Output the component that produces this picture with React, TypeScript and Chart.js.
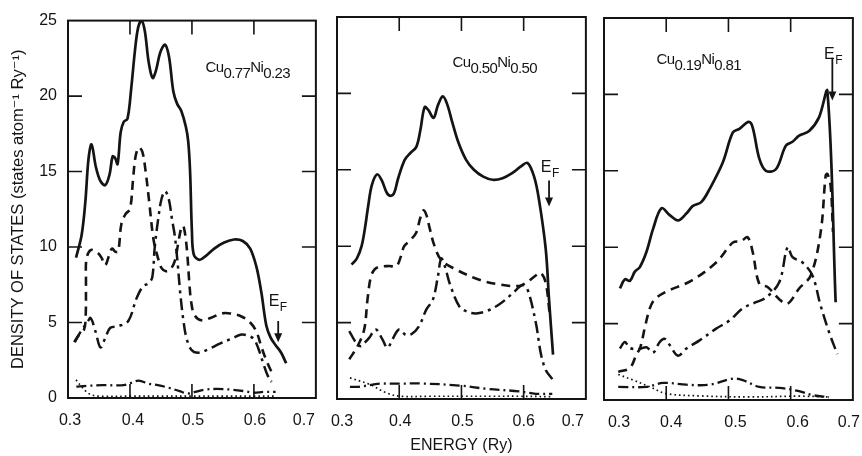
import React, { useEffect, useRef } from "react";
import { Chart, registerables } from "chart.js";

Chart.register(...registerables);

type Pt = [number, number];

// ---------- axis ticks ----------
const energyTicks = [0.3, 0.4, 0.5, 0.6, 0.7];
const dosTicks = [0, 5, 10, 15, 20, 25];

// ---------- panel 1 : Cu0.77Ni0.23 ----------
const cu77Total: Pt[] = [
  [0.313, 9.3], [0.322, 10.8], [0.328, 13.0], [0.333, 15.8], [0.338, 16.8], [0.345, 15.3],
  [0.352, 14.4], [0.36, 14.1], [0.367, 14.8], [0.372, 16.0], [0.376, 15.9], [0.38, 15.5],
  [0.385, 17.6], [0.39, 18.3], [0.396, 18.5], [0.402, 20.5], [0.408, 23.0], [0.413, 24.5],
  [0.4185, 25.0], [0.424, 24.3], [0.43, 22.3], [0.4365, 21.2], [0.442, 21.7], [0.449, 22.9],
  [0.4566, 23.4], [0.463, 22.6], [0.47, 20.3], [0.476, 19.5], [0.483, 19.0], [0.49, 18.0],
  [0.494, 17.0], [0.497, 15.0], [0.5, 11.0], [0.503, 9.5], [0.512, 9.15], [0.522, 9.4],
  [0.536, 9.9], [0.552, 10.3], [0.568, 10.5], [0.582, 10.4], [0.594, 9.9], [0.604, 8.7],
  [0.612, 7.0], [0.62, 4.8], [0.627, 4.0], [0.635, 3.5], [0.644, 3.0], [0.652, 2.3],
];
const cu77Dashed: Pt[] = [
  [0.31, 3.7], [0.318, 4.2], [0.326, 4.55], [0.3286, 5.5], [0.329, 7.7], [0.3297, 9.2],
  [0.3365, 9.8], [0.347, 9.65], [0.354, 9.3], [0.36, 8.8], [0.366, 9.4], [0.371, 9.9],
  [0.376, 9.7], [0.381, 9.7], [0.386, 11.5], [0.393, 12.2], [0.4, 12.5], [0.405, 14.5],
  [0.409, 16.0], [0.4143, 16.6], [0.42, 16.3], [0.425, 15.1], [0.431, 13.0], [0.438, 10.5],
  [0.445, 9.3], [0.451, 8.6], [0.458, 8.4], [0.465, 8.5], [0.4725, 9.1], [0.478, 10.3],
  [0.483, 11.3], [0.486, 11.4], [0.4895, 10.7], [0.4926, 9.5], [0.496, 7.5], [0.499, 6.3],
  [0.504, 5.5], [0.515, 5.15], [0.53, 5.3], [0.548, 5.6], [0.562, 5.6], [0.58, 5.4],
  [0.594, 5.0], [0.604, 4.4], [0.612, 3.4], [0.62, 2.5], [0.631, 1.5],
];
const cu77DashDot: Pt[] = [
  [0.311, 3.7], [0.3206, 4.4], [0.331, 5.0], [0.3365, 5.3], [0.3444, 4.4], [0.3524, 3.35],
  [0.3603, 4.0], [0.3683, 4.65], [0.3814, 4.76], [0.3973, 5.1], [0.4106, 6.6], [0.4211, 7.4],
  [0.43, 7.6], [0.436, 8.0], [0.44, 10.0], [0.446, 12.0], [0.451, 13.2], [0.4566, 13.7],
  [0.4625, 13.2], [0.468, 11.8], [0.4725, 10.7], [0.477, 8.9], [0.481, 7.0], [0.486, 5.2],
  [0.491, 4.0], [0.499, 3.2], [0.51, 3.0], [0.525, 3.2], [0.545, 3.6], [0.565, 3.95],
  [0.58, 4.2], [0.592, 4.1], [0.6, 3.9], [0.607, 3.3], [0.615, 2.3], [0.622, 1.5], [0.628, 1.1],
];
const cu77Low: Pt[] = [
  [0.3135, 0.75], [0.33, 0.8], [0.355, 0.85], [0.39, 0.85], [0.402, 1.0], [0.414, 1.15],
  [0.43, 0.95], [0.445, 0.85], [0.465, 0.65], [0.48, 0.45], [0.494, 0.3], [0.505, 0.4],
  [0.52, 0.55], [0.54, 0.6], [0.565, 0.55], [0.585, 0.45], [0.6, 0.35], [0.615, 0.4], [0.635, 0.4],
];
const cu77Dotted: Pt[] = [
  [0.313, 1.2], [0.321, 0.8], [0.33, 0.4], [0.34, 0.18], [0.352, 0.12], [0.4, 0.12],
  [0.45, 0.12], [0.5, 0.12], [0.55, 0.12], [0.6, 0.12], [0.635, 0.12],
];

// ---------- panel 2 : Cu0.50Ni0.50 ----------
const cu50Total: Pt[] = [
  [0.3235, 8.8], [0.332, 9.2], [0.3395, 10.0], [0.345, 11.2], [0.35, 12.6], [0.356, 14.0],
  [0.3645, 14.7], [0.372, 14.3], [0.38, 13.5], [0.386, 13.3], [0.392, 13.5], [0.398, 14.4],
  [0.4088, 15.65], [0.418, 16.1], [0.4275, 16.5], [0.434, 17.6], [0.4408, 19.1], [0.447, 18.9],
  [0.4552, 18.4], [0.462, 19.2], [0.47, 19.8], [0.477, 19.3], [0.486, 18.0], [0.495, 16.8],
  [0.5075, 15.65], [0.52, 15.0], [0.535, 14.55], [0.55, 14.35], [0.566, 14.45], [0.582, 14.8],
  [0.595, 15.2], [0.606, 15.45], [0.6168, 14.55], [0.6248, 13.0], [0.6355, 9.8], [0.6408, 6.5],
  [0.6472, 2.9],
];
const cu50Dashed: Pt[] = [
  [0.3197, 2.6], [0.333, 3.45], [0.3437, 4.55], [0.349, 6.5], [0.3544, 8.0], [0.3608, 8.5],
  [0.3677, 8.65], [0.3837, 8.7], [0.3955, 8.7], [0.4024, 9.3], [0.408, 10.0], [0.418, 10.4],
  [0.4275, 10.9], [0.4335, 11.8], [0.4392, 12.35], [0.444, 12.0], [0.4488, 11.2], [0.456, 10.1],
  [0.4675, 9.1], [0.49, 8.5], [0.5288, 7.8], [0.56, 7.5], [0.5928, 7.4], [0.607, 7.7],
  [0.62, 8.1], [0.6275, 8.25], [0.6355, 7.6], [0.642, 5.5],
];
const cu50DashDot: Pt[] = [
  [0.3197, 4.45], [0.3304, 3.7], [0.3384, 3.45], [0.345, 3.7], [0.3517, 4.0], [0.3624, 4.55],
  [0.373, 3.9], [0.3811, 3.35], [0.3891, 3.9], [0.3997, 4.55], [0.4104, 4.2], [0.42, 4.25],
  [0.4317, 4.75], [0.4435, 5.85], [0.4541, 6.5], [0.4621, 8.0], [0.4675, 9.2], [0.474, 8.6],
  [0.4808, 7.6], [0.4968, 6.05], [0.51, 5.7], [0.5235, 5.6], [0.54, 5.75], [0.561, 6.2],
  [0.582, 6.9], [0.598, 7.45], [0.606, 7.2], [0.6195, 5.0], [0.6275, 3.0], [0.6355, 1.9],
  [0.646, 1.3],
];
const cu50Low: Pt[] = [
  [0.3208, 0.8], [0.335, 0.8], [0.3688, 1.0], [0.4, 1.0], [0.4328, 1.02], [0.4968, 0.88],
  [0.5395, 0.67], [0.5928, 0.5], [0.6195, 0.34], [0.646, 0.34],
];
const cu50Dotted: Pt[] = [
  [0.3208, 1.38], [0.3528, 0.95], [0.3795, 0.4], [0.4008, 0.18], [0.45, 0.18], [0.5, 0.18],
  [0.55, 0.18], [0.5928, 0.18], [0.646, 0.15],
];

// ---------- panel 3 : Cu0.19Ni0.81 ----------
const cu19Total: Pt[] = [
  [0.3256, 7.3], [0.3336, 7.9], [0.3416, 7.8], [0.3496, 8.4], [0.3576, 8.7], [0.3683, 9.7],
  [0.3789, 11.2], [0.3923, 12.55], [0.4056, 12.1], [0.4189, 11.75], [0.4323, 12.2], [0.4429, 12.7],
  [0.4563, 12.95], [0.4696, 13.8], [0.4909, 15.55], [0.5069, 17.5], [0.5176, 17.75], [0.5325, 18.2],
  [0.5389, 17.85], [0.5496, 15.8], [0.5603, 15.0], [0.5763, 15.1], [0.5923, 16.65], [0.603, 16.9],
  [0.6136, 17.3], [0.6296, 17.6], [0.6456, 18.5], [0.659, 20.2], [0.6723, 6.4],
];
const cu19Dashed: Pt[] = [
  [0.3229, 1.84], [0.3416, 2.1], [0.3523, 3.0], [0.358, 3.4], [0.366, 4.8], [0.3736, 6.0],
  [0.3816, 6.6], [0.4003, 7.1], [0.44, 7.8], [0.4803, 9.0], [0.5069, 10.3], [0.5203, 10.4],
  [0.5309, 10.65], [0.5389, 9.7], [0.5496, 7.6], [0.5629, 7.4], [0.5816, 6.6], [0.595, 6.3],
  [0.6136, 7.3], [0.6323, 8.15], [0.6483, 11.0], [0.6563, 14.7], [0.659, 14.8], [0.6643, 14.0],
  [0.668, 11.0],
];
const cu19DashDot: Pt[] = [
  [0.3256, 3.37], [0.3336, 3.8], [0.3416, 3.4], [0.3576, 3.35], [0.3683, 3.45], [0.3789, 3.1],
  [0.3896, 3.8], [0.3976, 4.0], [0.4056, 3.6], [0.4189, 2.9], [0.4323, 3.37], [0.4536, 3.9],
  [0.4803, 4.67], [0.5016, 5.2], [0.5229, 6.0], [0.5443, 6.4], [0.5603, 6.7], [0.5816, 7.7],
  [0.595, 10.0], [0.603, 9.35], [0.619, 9.0], [0.635, 8.15], [0.648, 6.2], [0.6616, 4.45],
  [0.675, 3.0],
];
const cu19Low: Pt[] = [
  [0.3229, 0.86], [0.3683, 0.86], [0.395, 1.12], [0.4323, 1.0], [0.4696, 1.0], [0.5069, 1.4],
  [0.5229, 1.3], [0.5496, 0.86], [0.5816, 0.8], [0.6136, 0.58], [0.635, 0.32], [0.6616, 0.18],
];
const cu19Dotted: Pt[] = [
  [0.3229, 1.67], [0.347, 1.3], [0.3736, 0.86], [0.4, 0.42], [0.4536, 0.27], [0.5336, 0.2],
  [0.6136, 0.25], [0.6616, 0.2],
];

// ---------- labels ----------
const cu77Formula = ["Cu", "0.77", "Ni", "0.23"];
const cu50Formula = ["Cu", "0.50", "Ni", "0.50"];
const cu19Formula = ["Cu", "0.19", "Ni", "0.81"];
const yTitle = "DENSITY OF STATES (states atom\u207B\u00B9 Ry\u207B\u00B9)";
const xTitle = "ENERGY (Ry)";

const FONT = '"Liberation Sans", "DejaVu Sans", Arial, sans-serif';
const INK = "#141414";

const lineStyles = {
  total: { dash: [] as number[], width: 2.7 },
  dashed: { dash: [9, 6], width: 2.6 },
  dashDot: { dash: [12, 5, 3, 5], width: 2.5 },
  low: { dash: [10, 4, 2, 4], width: 2.3 },
  dotted: { dash: [1.6, 3], width: 1.7 },
};

type PanelCfg = {
  left: number; width: number; padL: number; padR: number; top: number; bottom: number;
  showY: boolean; showXTitle: boolean; xLabelShift: number[];
  series: { pts: Pt[]; style: keyof typeof lineStyles }[];
  formula: string[]; formulaAt: Pt;
  efText: Pt; efArrowX: number; efFrom: number; efTo: number;
};

const panels: PanelCfg[] = [
  {
    left: 0, width: 340, padL: 0, padR: 20, top: 15, bottom: 398, showY: true, showXTitle: false,
    xLabelShift: [2, 3, 1, 1, -12],
    series: [
      { pts: cu77Total, style: "total" }, { pts: cu77Dashed, style: "dashed" },
      { pts: cu77DashDot, style: "dashDot" }, { pts: cu77Low, style: "low" },
      { pts: cu77Dotted, style: "dotted" },
    ],
    formula: cu77Formula, formulaAt: [0.522, 21.6],
    efText: [0.6238, 6.07], efArrowX: 0.6392, efFrom: 5.1, efTo: 3.7,
  },
  {
    left: 310, width: 300, padL: 27, padR: 23, top: 17, bottom: 399, showY: false, showXTitle: true,
    xLabelShift: [5, 1, 1, 0, -13],
    series: [
      { pts: cu50Total, style: "total" }, { pts: cu50Dashed, style: "dashed" },
      { pts: cu50DashDot, style: "dashDot" }, { pts: cu50Low, style: "low" },
      { pts: cu50Dotted, style: "dotted" },
    ],
    formula: cu50Formula, formulaAt: [0.4856, 21.7],
    efText: [0.6275, 14.87], efArrowX: 0.6408, efFrom: 14.3, efTo: 12.6,
  },
  {
    left: 577, width: 300, padL: 27, padR: 23, top: 18, bottom: 400, showY: false, showXTitle: false,
    xLabelShift: [15, 5, 7, 7, -4],
    series: [
      { pts: cu19Total, style: "total" }, { pts: cu19Dashed, style: "dashed" },
      { pts: cu19DashDot, style: "dashDot" }, { pts: cu19Low, style: "low" },
      { pts: cu19Dotted, style: "dotted" },
    ],
    formula: cu19Formula, formulaAt: [0.3843, 22.0],
    efText: [0.6536, 22.3], efArrowX: 0.667, efFrom: 22.4, efTo: 19.6,
  },
];

const decorPlugin = {
  id: "decor",
  beforeDraw(chart: any) {
    const cfg: PanelCfg = chart.options.plugins.decor.cfg;
    const items = chart.scales.x.getLabelItems();
    items.forEach((it: any, i: number) => {
      if (!it.__shifted) {
        it.options.translation[0] += cfg.xLabelShift[i] || 0;
        it.__shifted = true;
      }
    });
  },
  afterDatasetsDraw(chart: any) {
    const cfg: PanelCfg = chart.options.plugins.decor.cfg;
    const { ctx, chartArea: a, scales } = chart;
    const xs = scales.x, ys = scales.y;
    ctx.save();
    ctx.strokeStyle = INK;
    ctx.fillStyle = INK;
    ctx.setLineDash([]);
    // frame
    ctx.lineWidth = 2;
    ctx.strokeRect(a.left, a.top, a.right - a.left, a.bottom - a.top);
    // inward ticks
    const L = 14;
    ctx.lineWidth = 1.6;
    ctx.beginPath();
    for (const v of dosTicks) {
      if (v <= dosTicks[0] || v >= dosTicks[dosTicks.length - 1]) continue;
      const py = ys.getPixelForValue(v);
      ctx.moveTo(a.left, py); ctx.lineTo(a.left + L, py);
      ctx.moveTo(a.right, py); ctx.lineTo(a.right - L, py);
    }
    for (const v of energyTicks) {
      if (v <= energyTicks[0] || v >= energyTicks[energyTicks.length - 1]) continue;
      const px = xs.getPixelForValue(v);
      ctx.moveTo(px, a.top); ctx.lineTo(px, a.top + L);
      ctx.moveTo(px, a.bottom); ctx.lineTo(px, a.bottom - L);
    }
    ctx.stroke();
    // formula label
    let fx = xs.getPixelForValue(cfg.formulaAt[0]);
    const fy = ys.getPixelForValue(cfg.formulaAt[1]);
    ctx.textAlign = "left";
    ctx.textBaseline = "alphabetic";
    try { (ctx as any).letterSpacing = "-0.6px"; } catch (e) { /* ignore */ }
    cfg.formula.forEach((t, i) => {
      const sub = i % 2 === 1;
      ctx.font = `15px ${FONT}`;
      ctx.fillText(t, fx, fy + (sub ? 6 : 0));
      fx += ctx.measureText(t).width;
    });
    try { (ctx as any).letterSpacing = "0px"; } catch (e) { /* ignore */ }
    // E_F label
    const ex = xs.getPixelForValue(cfg.efText[0]);
    const ey = ys.getPixelForValue(cfg.efText[1]);
    ctx.font = `16px ${FONT}`;
    ctx.fillText("E", ex, ey);
    const ew = ctx.measureText("E").width;
    ctx.font = `12px ${FONT}`;
    ctx.fillText("F", ex + ew + 0.5, ey + 5);
    // arrow
    const ax = xs.getPixelForValue(cfg.efArrowX);
    const y1 = ys.getPixelForValue(cfg.efFrom);
    const y2 = ys.getPixelForValue(cfg.efTo);
    const head = 9;
    ctx.lineWidth = 1.8;
    ctx.beginPath();
    ctx.moveTo(ax, y1); ctx.lineTo(ax, y2 - head + 1);
    ctx.stroke();
    ctx.beginPath();
    ctx.moveTo(ax - 4, y2 - head); ctx.lineTo(ax + 4, y2 - head); ctx.lineTo(ax, y2);
    ctx.closePath();
    ctx.fill();
    ctx.restore();
  },
};

function Panel({ cfg }: { cfg: PanelCfg }) {
  const ref = useRef<HTMLCanvasElement>(null);
  useEffect(() => {
    const H = 456;
    const chart = new Chart(ref.current!, {
      type: "line",
      data: {
        datasets: cfg.series.map((s) => ({
          data: s.pts.map(([x, y]) => ({ x, y })),
          borderColor: INK,
          borderWidth: lineStyles[s.style].width,
          borderDash: lineStyles[s.style].dash,
          pointRadius: 0,
          tension: 0.35,
          fill: false,
        })),
      },
      options: {
        animation: false,
        responsive: false,
        devicePixelRatio: 1,
        events: [],
        layout: { padding: { left: cfg.padL, right: cfg.padR, top: cfg.top, bottom: 0 } },
        plugins: {
          legend: { display: false },
          tooltip: { enabled: false },
          decor: { cfg },
        } as any,
        scales: {
          x: {
            type: "linear",
            min: energyTicks[0],
            max: energyTicks[energyTicks.length - 1],
            afterBuildTicks: (s: any) => { s.ticks = energyTicks.map((v) => ({ value: v })); },
            afterFit: (s: any) => { s.height = H - cfg.bottom; },
            grid: { display: false, drawTicks: false },
            border: { display: false },
            ticks: {
              color: INK,
              font: { family: FONT, size: 16 },
              padding: 13,
              maxRotation: 0,
              autoSkip: false,
              callback: (v: any) => Number(v).toFixed(1),
            },
            title: {
              display: cfg.showXTitle,
              text: xTitle,
              color: INK,
              font: { family: FONT, size: 16 },
              padding: { top: 0, bottom: 1 },
            },
          },
          y: {
            type: "linear",
            display: cfg.showY,
            min: dosTicks[0],
            max: dosTicks[dosTicks.length - 1],
            afterBuildTicks: (s: any) => { s.ticks = dosTicks.map((v) => ({ value: v })); },
            afterFit: (s: any) => { s.width = cfg.showY ? 68 : 0; },
            grid: { display: false, drawTicks: false },
            border: { display: false },
            ticks: {
              color: INK,
              font: { family: FONT, size: 16 },
              padding: 11,
              autoSkip: false,
            },
            title: {
              display: cfg.showY,
              text: yTitle,
              color: INK,
              font: { family: FONT, size: 16.5 },
              padding: { top: 9, bottom: 0 },
            },
          },
        },
      },
      plugins: [decorPlugin],
    });
    return () => chart.destroy();
  }, [cfg]);
  return (
    <canvas
      ref={ref}
      width={cfg.width}
      height={456}
      style={{ position: "absolute", left: cfg.left, top: 0, display: "block" }}
    />
  );
}

export default function App() {
  return (
    <div
      style={{
        position: "absolute", left: 0, top: 0, width: 862, height: 456,
        overflow: "hidden", background: "#ffffff",
      }}
    >
      {panels.map((p, i) => (
        <Panel key={i} cfg={p} />
      ))}
    </div>
  );
}
